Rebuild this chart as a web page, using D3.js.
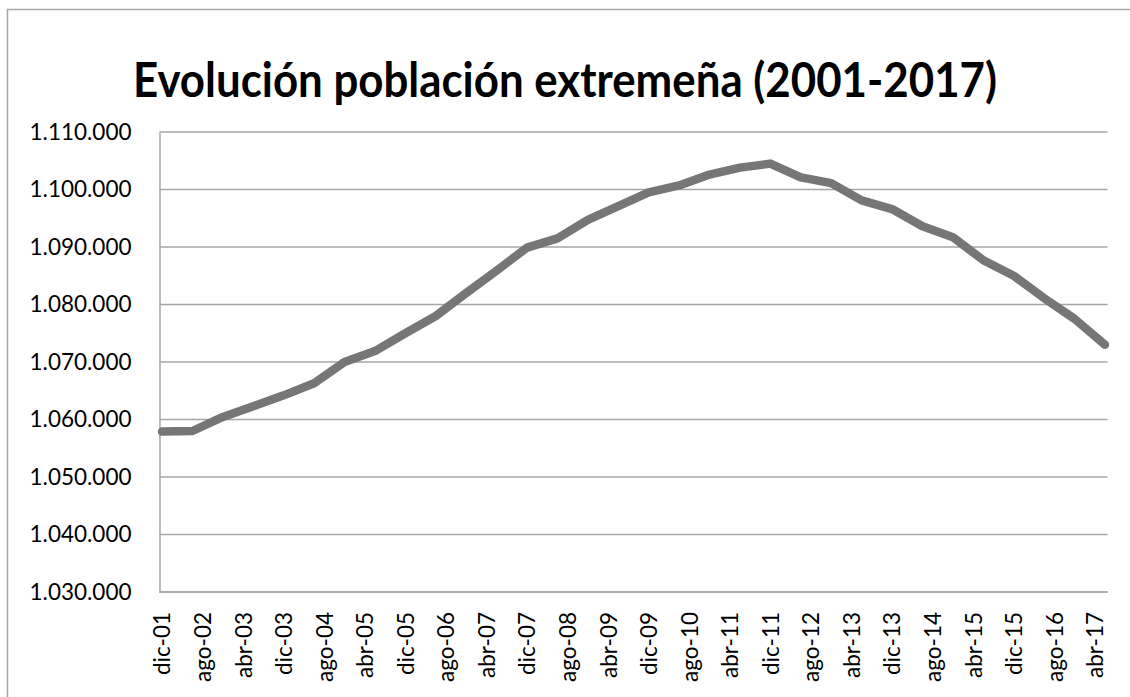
<!DOCTYPE html>
<html>
<head>
<meta charset="utf-8">
<script src="https://cdn.jsdelivr.net/npm/d3@7"></script>
<style>
  html, body { margin: 0; padding: 0; background: #ffffff; }
  svg { display: block; }
</style>
</head>
<body>
<svg id="chart" width="1130" height="697"></svg>
<script>
// ---- data (semi-annual population of Extremadura) ----
const title = "Evolución población extremeña (2001-2017)";
const dates = [
  "2001-12","2002-06","2002-12","2003-06","2003-12","2004-06","2004-12","2005-06",
  "2005-12","2006-06","2006-12","2007-06","2007-12","2008-06","2008-12","2009-06",
  "2009-12","2010-06","2010-12","2011-06","2011-12","2012-06","2012-12","2013-06",
  "2013-12","2014-06","2014-12","2015-06","2015-12","2016-06","2016-12","2017-06"
];
const population = [
  1057900, 1058000, 1060450, 1062300, 1064200, 1066300, 1070000, 1071900,
  1075000, 1078000, 1082000, 1085900, 1089900, 1091500, 1094700, 1097100,
  1099500, 1100700, 1102600, 1103800, 1104500, 1102100, 1101100, 1098100,
  1096600, 1093600, 1091700, 1087700, 1085000, 1081100, 1077500, 1073000
];
const tickDates = [
  "2001-12","2002-08","2003-04","2003-12","2004-08","2005-04","2005-12","2006-08",
  "2007-04","2007-12","2008-08","2009-04","2009-12","2010-08","2011-04","2011-12",
  "2012-08","2013-04","2013-12","2014-08","2015-04","2015-12","2016-08","2017-04"
];
const tickLabels = [
  "dic-01","ago-02","abr-03","dic-03","ago-04","abr-05","dic-05","ago-06",
  "abr-07","dic-07","ago-08","abr-09","dic-09","ago-10","abr-11","dic-11",
  "ago-12","abr-13","dic-13","ago-14","abr-15","dic-15","ago-16","abr-17"
];
const yTicks = [1030000, 1040000, 1050000, 1060000, 1070000, 1080000, 1090000, 1100000, 1110000];

// ---- layout ----
const svg = d3.select("#chart");
const W = 1130, H = 697;
const plot = { left: 159.5, right: 1107.5, top: 132, bottom: 592 };
const font = "Lato, 'Open Sans', 'DejaVu Sans', sans-serif";

// month index relative to first month
function monthIndex(s) {
  const [y, m] = s.split("-").map(Number);
  const [y0, m0] = dates[0].split("-").map(Number);
  return (y - y0) * 12 + (m - m0);
}
const nMonths = monthIndex(dates[dates.length - 1]) + 1;

const x = d3.scaleLinear().domain([0, nMonths]).range([plot.left, plot.right]);
const y = d3.scaleLinear().domain([1030000, 1110000]).range([plot.bottom, plot.top]);

// outer chart border
svg.append("rect")
  .attr("x", 7.5).attr("y", 9.5)
  .attr("width", W + 20).attr("height", H + 20)
  .attr("fill", "#ffffff")
  .attr("stroke", "#a6a6a6").attr("stroke-width", 1.5);

// title
const t = svg.append("text")
  .attr("x", 565).attr("y", 97)
  .attr("text-anchor", "middle")
  .attr("font-family", font)
  .attr("font-weight", "bold")
  .attr("font-size", 48)
  .attr("fill", "#000000")
  .text(title);
t.attr("textLength", 864).attr("lengthAdjust", "spacingAndGlyphs");

// gridlines
svg.append("g")
  .selectAll("line")
  .data(yTicks)
  .join("line")
  .attr("x1", plot.left).attr("x2", plot.right)
  .attr("y1", d => y(d)).attr("y2", d => y(d))
  .attr("stroke", "#a6a6a6").attr("stroke-width", 1.5);

// y axis
const fmt = d => d3.format(",")(d).replace(/,/g, ".");
const yAxis = svg.append("g")
  .attr("transform", `translate(${plot.left},0)`)
  .call(d3.axisLeft(y).tickValues(yTicks).tickFormat(fmt).tickSize(0).tickPadding(28));
yAxis.select(".domain").attr("stroke", "#a6a6a6").attr("stroke-width", 1.5);
yAxis.selectAll("text")
  .attr("font-family", font).attr("font-size", 22.5).attr("fill", "#000000");

// x axis
const xAxis = svg.append("g")
  .attr("transform", `translate(0,${plot.bottom})`)
  .call(d3.axisBottom(x)
    .tickValues(tickDates.map(d => monthIndex(d) + 0.5))
    .tickFormat((d, i) => tickLabels[i])
    .tickSize(0));
xAxis.select(".domain").attr("stroke", "#a6a6a6").attr("stroke-width", 1.5)
  .attr("d", `M${plot.left},0H${plot.right}`);
xAxis.selectAll("text")
  .attr("font-family", font).attr("font-size", 22.5).attr("fill", "#000000")
  .attr("text-anchor", "end")
  .attr("transform", "rotate(-90)")
  .attr("x", -20).attr("y", 0).attr("dy", "0.35em");

// line
const line = d3.line()
  .x((d, i) => x(monthIndex(dates[i]) + 0.5))
  .y(d => y(d));
svg.append("path")
  .datum(population)
  .attr("d", line)
  .attr("fill", "none")
  .attr("stroke", "#767676")
  .attr("stroke-width", 8.5)
  .attr("stroke-linejoin", "round")
  .attr("stroke-linecap", "round");
</script>
</body>
</html>
